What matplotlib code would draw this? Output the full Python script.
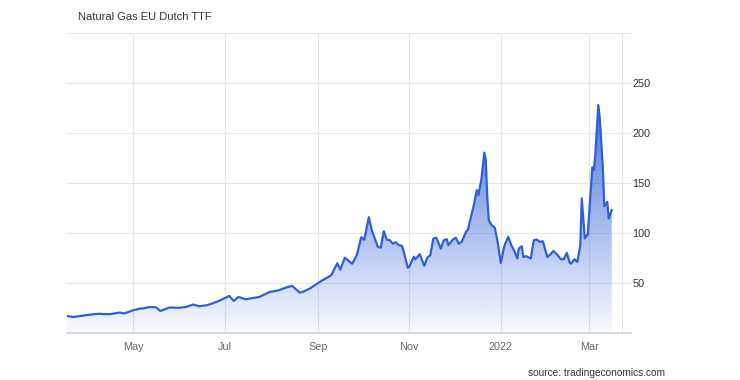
import matplotlib
matplotlib.use("Agg")
import matplotlib.pyplot as plt
import matplotlib.dates as mdates
from matplotlib.patches import Polygon
import numpy as np
import pandas as pd

# TTF front-month price, EUR/MWh
dates = ["2021-03-18", "2021-03-22", "2021-04-04", "2021-04-08", "2021-04-15",
         "2021-04-22", "2021-04-25", "2021-04-28", "2021-05-01", "2021-05-05",
         "2021-05-08", "2021-05-12", "2021-05-16", "2021-05-19", "2021-05-25",
         "2021-06-01", "2021-06-05", "2021-06-10", "2021-06-14", "2021-06-19",
         "2021-06-23", "2021-06-27", "2021-07-04", "2021-07-07", "2021-07-10",
         "2021-07-15", "2021-07-24", "2021-07-31", "2021-08-06", "2021-08-12",
         "2021-08-15", "2021-08-20", "2021-08-23", "2021-08-27", "2021-09-01",
         "2021-09-03", "2021-09-10", "2021-09-14", "2021-09-16", "2021-09-19",
         "2021-09-24", "2021-09-27", "2021-09-30", "2021-10-02", "2021-10-05",
         "2021-10-07", "2021-10-11", "2021-10-13", "2021-10-15", "2021-10-17",
         "2021-10-19", "2021-10-21", "2021-10-23", "2021-10-25", "2021-10-27",
         "2021-10-28", "2021-10-31", "2021-11-01", "2021-11-04", "2021-11-05",
         "2021-11-08", "2021-11-11", "2021-11-13", "2021-11-15", "2021-11-17",
         "2021-11-19", "2021-11-22", "2021-11-24", "2021-11-26", "2021-11-27",
         "2021-11-30", "2021-12-02", "2021-12-04", "2021-12-06", "2021-12-09",
         "2021-12-10", "2021-12-14", "2021-12-16", "2021-12-17", "2021-12-19",
         "2021-12-21", "2021-12-22", "2021-12-23", "2021-12-24", "2021-12-26",
         "2021-12-28", "2021-12-30", "2022-01-01", "2022-01-03", "2022-01-04",
         "2022-01-06", "2022-01-08", "2022-01-10", "2022-01-12", "2022-01-13",
         "2022-01-15", "2022-01-16", "2022-01-18", "2022-01-21", "2022-01-23",
         "2022-01-25", "2022-01-27", "2022-01-29", "2022-02-01", "2022-02-03",
         "2022-02-05", "2022-02-08", "2022-02-10", "2022-02-12", "2022-02-14",
         "2022-02-16", "2022-02-17", "2022-02-19", "2022-02-21", "2022-02-23",
         "2022-02-24", "2022-02-26", "2022-02-28", "2022-03-03", "2022-03-04",
         "2022-03-05", "2022-03-07", "2022-03-08", "2022-03-10", "2022-03-11",
         "2022-03-13", "2022-03-14", "2022-03-16"]
prices = [17.3, 16.3, 19.0, 19.5, 19.0,
          20.7, 19.8, 21.5, 23.0, 24.5,
          25.0, 26.3, 26.0, 22.3, 25.7,
          25.5, 26.3, 28.7, 27.0, 28.0,
          30.0, 32.3, 37.3, 32.3, 36.3,
          34.0, 36.3, 41.3, 43.0, 46.3,
          47.3, 40.5, 42.0, 45.0, 50.0,
          52.0, 58.0, 70.0, 63.5, 75.5,
          69.5, 78.0, 96.0, 93.5, 116.0,
          103.0, 86.5, 85.5, 102.0, 93.5,
          93.0, 89.5, 91.0, 88.0, 87.5,
          83.5, 65.5, 66.5, 76.5, 74.0,
          79.0, 67.5, 75.5, 78.0, 94.5,
          95.5, 84.5, 93.0, 94.0, 88.0,
          93.5, 95.5, 89.5, 91.5, 102.0,
          103.0, 128.0, 143.0, 138.0, 153.0,
          180.5, 173.0, 136.0, 113.0, 108.0,
          105.5, 90.5, 70.3, 85.0, 89.7,
          96.3, 88.0, 82.3, 74.7, 84.7,
          87.0, 76.3, 77.0, 74.7, 93.0,
          93.7, 91.3, 92.0, 76.3, 78.7,
          82.3, 78.0, 74.0, 74.0, 80.3,
          70.3, 69.7, 74.0, 71.3, 88.0,
          134.7, 94.7, 99.0, 165.7, 163.0,
          178.0, 228.0, 214.7, 166.3, 127.0,
          131.3, 114.7, 123.0]

yticks = [50, 100, 150, 200, 250, 300]
ylabels = ["50", "100", "150", "200", "250", ""]

line_color = "#2f5fd8"

x = mdates.date2num(pd.to_datetime(dates))
y = np.array(prices)

plt.rcParams["font.family"] = ["Liberation Sans", "DejaVu Sans"]

fig = plt.figure(figsize=(7.4, 3.8), dpi=100)
ax = fig.add_axes([0.0901, 0.1229, 0.7626, 0.7903])
ax.set_axisbelow(True)

x0 = mdates.date2num(pd.Timestamp("2021-05-01")) - 44.4
x1 = mdates.date2num(pd.Timestamp("2022-03-01")) + 27.8
ax.set_xlim(x0, x1)
ax.set_ylim(0, 300)

# gradient area under the line
grad = np.zeros((256, 1, 4))
rgb = matplotlib.colors.to_rgb(line_color)
grad[:, 0, 0], grad[:, 0, 1], grad[:, 0, 2] = rgb
vals = np.linspace(300, 0, 256)
grad[:, 0, 3] = np.clip(0.03 + 0.85 * vals / 230, 0, 1)
img = ax.imshow(grad, aspect="auto", extent=[x0, x1, 0, 300], origin="upper", zorder=1)
poly = Polygon(np.column_stack([np.r_[x[0], x, x[-1]], np.r_[0, y, 0]]),
               closed=True, facecolor="none", edgecolor="none")
ax.add_patch(poly)
img.set_clip_path(poly)

ax.plot(x, y, color=line_color, lw=1.6, zorder=3, solid_joinstyle="round")

# grid
ax.set_yticks(yticks)
ax.set_yticklabels(ylabels)
ax.yaxis.tick_right()
ax.grid(axis="y", color="#e6e6e6", lw=0.8, zorder=0)
ax.xaxis.set_major_locator(mdates.MonthLocator(bymonth=[1, 3, 5, 7, 9, 11]))


def fmt(v, pos=None):
    d = mdates.num2date(v)
    return str(d.year) if d.month == 1 else d.strftime("%b")


ax.xaxis.set_major_formatter(plt.FuncFormatter(fmt))
ax.grid(axis="x", color="#e6e6e6", lw=0.8, zorder=0)
ax.axvline(mdates.date2num(pd.Timestamp("2022-03-23")), color="#e6e6e6", lw=0.8, zorder=0)

for s in ["top", "left", "right"]:
    ax.spines[s].set_visible(False)
ax.spines["bottom"].set_color("#d8d8d8")
ax.spines["bottom"].set_linewidth(1.3)
ax.tick_params(axis="both", length=0, labelsize=7.8)
ax.tick_params(axis="x", pad=6, labelcolor="#666666")
ax.tick_params(axis="y", pad=1, labelcolor="#333333")

fig.text(78 / 740, 1 - 17 / 380, "Natural Gas EU Dutch TTF", fontsize=8, color="#333333", va="center")
fig.text(665 / 740, 1 - 373 / 380, "source: tradingeconomics.com", fontsize=7.3, color="#333333",
         ha="right", va="center")

fig.savefig("out.png", dpi=100)
